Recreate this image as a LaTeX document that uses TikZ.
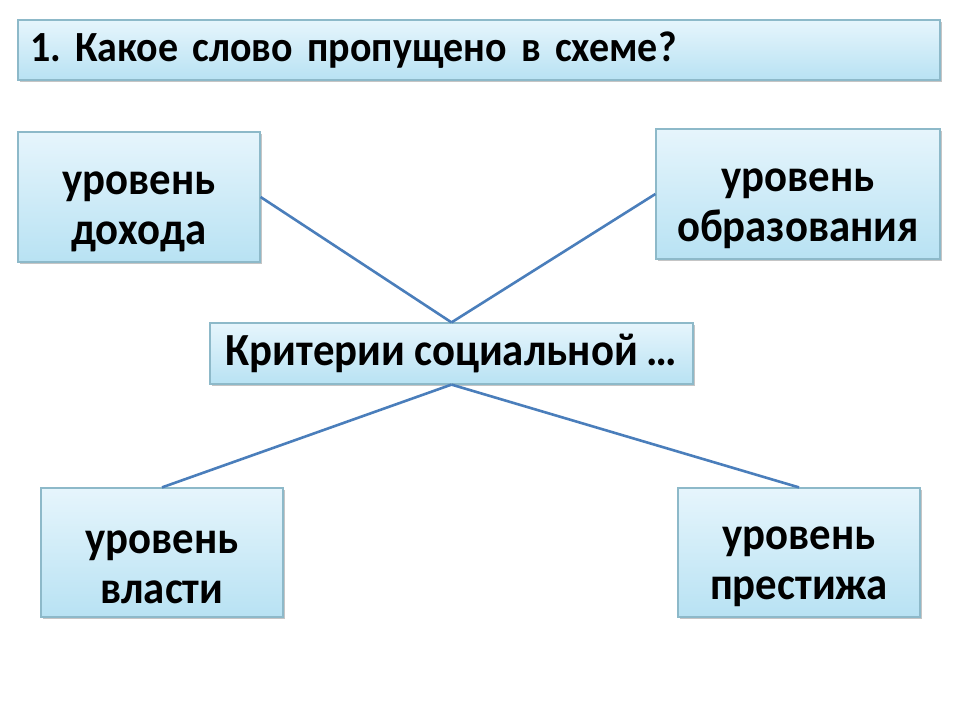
\documentclass[tikz,border=0pt]{standalone}
\usepackage{fontspec}
\setmainfont{Carlito}
\newfontfamily\boxfont[FakeStretch=0.93]{Carlito}
\usetikzlibrary{shadows}
\definecolor{boxtop}{HTML}{E6F5FC}
\definecolor{boxbot}{HTML}{B8E2F3}
\definecolor{boxline}{HTML}{8DB9C9}
\definecolor{link}{HTML}{4A7EBB}
\newcommand\lowline{\rule{0pt}{52pt}}
\newcommand\boxtext{\boxfont\fontsize{46}{50}\selectfont\bfseries\frenchspacing\spaceskip=9pt plus 1pt\relax}
\newcommand\questtext{\boxfont\fontsize{43}{50}\selectfont\bfseries\frenchspacing\spaceskip=8pt plus 1pt\relax}
\tikzset{
  box/.style={draw=boxline,line width=1.2pt,top color=boxtop,bottom color=boxbot,
    drop shadow={shadow xshift=2pt,shadow yshift=-2pt,fill=black!45},
    align=center,font=\boxtext},
  link/.style={draw=link,line width=2.6pt}
}
\begin{document}
\begin{tikzpicture}[x=1pt,y=-1pt]
  \useasboundingbox (0,0) rectangle (960,720);
  \fill[white] (0,0) rectangle (960,720);
  \node[box,font=\questtext,minimum width=922pt,minimum height=60pt,text width=898pt,inner xsep=12pt,align=left] (quest) at (479,50) {1. Какое слово пропущено в схеме?};
  \node[box,minimum width=242pt,minimum height=130pt] (income) at (139,197) {\lowline уровень\\дохода};
  \node[box,minimum width=284pt,minimum height=130pt] (educ) at (798,194) {\lowline уровень\\образования};
  \node[box,minimum width=483pt,minimum height=61pt] (crit) at (451.5,353.5) {Критерии социальной …};
  \node[box,minimum width=242pt,minimum height=129pt] (power) at (162,552.5) {\lowline уровень\\власти};
  \node[box,minimum width=242pt,minimum height=129pt] (prest) at (799,552.5) {\lowline уровень\\престижа};
  \draw[link] (income.east) -- (crit.north);
  \draw[link] (educ.west) -- (crit.north);
  \draw[link] (crit.south) -- (power.north);
  \draw[link] (crit.south) -- (prest.north);
\end{tikzpicture}
\end{document}
